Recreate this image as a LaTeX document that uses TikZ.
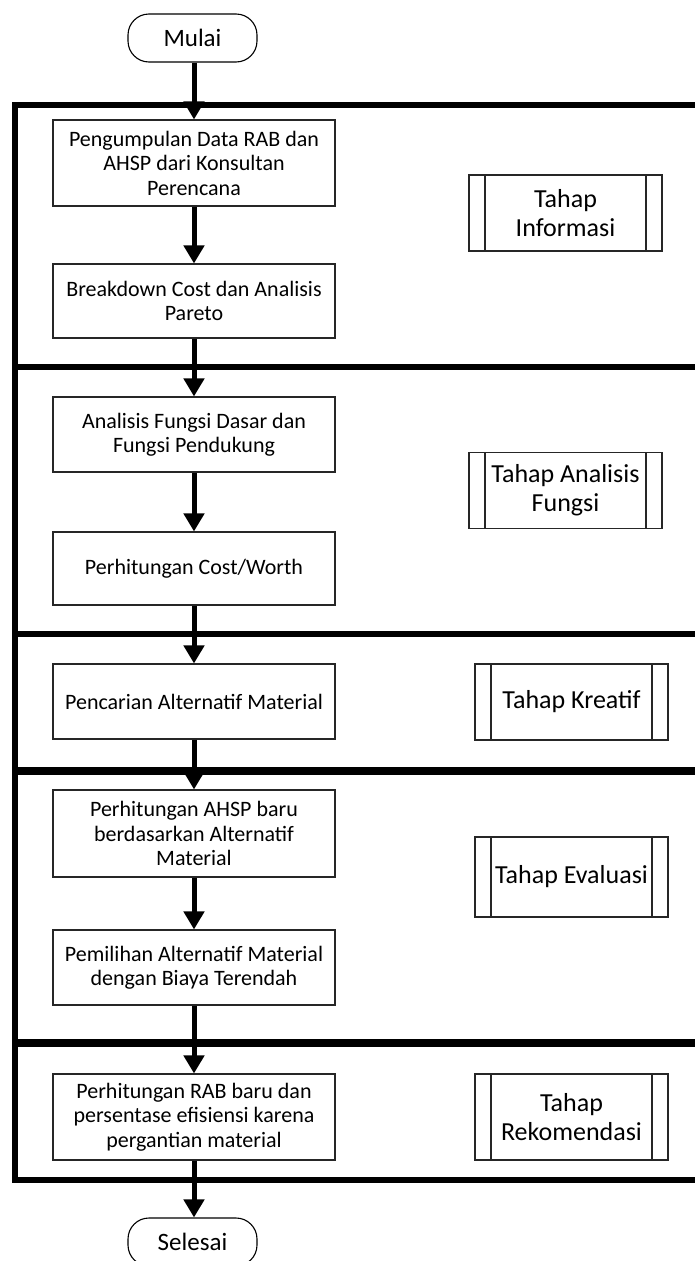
\documentclass[tikz,border=0pt]{standalone}
\usepackage{fontspec}
\setmainfont{Carlito}
\usetikzlibrary{arrows.meta}
\begin{document}
\begin{tikzpicture}[x=1pt,y=-1pt,
  procbox/.style={draw=black!85,line width=1.1pt,minimum width=282pt,align=center,inner sep=2pt,
    font=\fontsize{22}{24.5}\selectfont},
  phasebox/.style={draw=black!85,line width=1.1pt,minimum width=193pt,align=center,inner sep=2pt,
    font=\fontsize{26}{29}\selectfont,
    path picture={\draw[black!85,line width=1.1pt]
      ([xshift=16pt]path picture bounding box.north west) -- ([xshift=16pt]path picture bounding box.south west)
      ([xshift=-16pt]path picture bounding box.north east) -- ([xshift=-16pt]path picture bounding box.south east);}},
  termbox/.style={draw=black,line width=1.1pt,minimum width=129pt,minimum height=48pt,rounded corners=21pt,
    font=\fontsize{25}{29}\selectfont},
  flow/.style={line width=5pt,-{Triangle[length=18pt,width=20pt]}},
  frame/.style={line width=6pt}
]
\useasboundingbox (0,0) rectangle (695,1261);
\clip (0,0) rectangle (695,1261);

% frames
\draw[frame] (710,105) -- (14.5,105) -- (14.5,1180) -- (710,1180);
\draw[frame] (14.5,367) -- (710,367);
\draw[frame] (14.5,634) -- (710,634);
\draw[frame,line width=8pt] (14.5,771) -- (710,771);
\draw[frame,line width=8pt] (14.5,1043) -- (710,1043);

% terminals
\node[termbox] (start) at (192.5,38) {Mulai};
\node[termbox] (end) at (192.5,1242) {Selesai};

% process boxes
\node[procbox,minimum height=86pt] (b1) at (194,163) {Pengumpulan Data RAB dan\\AHSP dari Konsultan\\Perencana};
\node[procbox,minimum height=74pt] (b2) at (194,301) {Breakdown Cost dan Analisis\\Pareto};
\node[procbox,minimum height=75pt] (b3) at (194,434.5) {Analisis Fungsi Dasar dan\\Fungsi Pendukung};
\node[procbox,minimum height=73pt] (b4) at (194,568.5) {Perhitungan Cost/Worth};
\node[procbox,minimum height=75pt] (b5) at (194,701.5) {Pencarian Alternatif Material};
\node[procbox,minimum height=87pt] (b6) at (194,833.5) {Perhitungan AHSP baru\\berdasarkan Alternatif\\Material};
\node[procbox,minimum height=75pt] (b7) at (194,967.5) {Pemilihan Alternatif Material\\dengan Biaya Terendah};
\node[procbox,minimum height=86pt] (b8) at (194,1117) {Perhitungan RAB baru dan\\persentase efisiensi karena\\pergantian material};

% phase boxes
\node[phasebox,minimum height=76pt] (p1) at (565.5,213) {Tahap\\Informasi};
\node[phasebox,minimum height=76pt] (p2) at (565.5,490.5) {Tahap Analisis\\Fungsi};
\node[phasebox,minimum height=76pt] (p3) at (571.5,702) {Tahap Kreatif};
\node[phasebox,minimum height=80pt] (p4) at (571.5,877) {Tahap Evaluasi};
\node[phasebox,minimum height=86pt] (p5) at (571.5,1117) {Tahap\\Rekomendasi};

% connectors
\draw[flow] (start.south -| b1.north) -- (b1.north);
\draw[flow] (b1) -- (b2);
\draw[flow] (b2) -- (b3);
\draw[flow] (b3) -- (b4);
\draw[flow] (b4) -- (b5);
\draw[flow] (b5) -- (b6);
\draw[flow] (b6) -- (b7);
\draw[flow] (b7) -- (b8);
\draw[flow] (b8.south) -- (b8.south |- end.north);
\end{tikzpicture}
\end{document}
